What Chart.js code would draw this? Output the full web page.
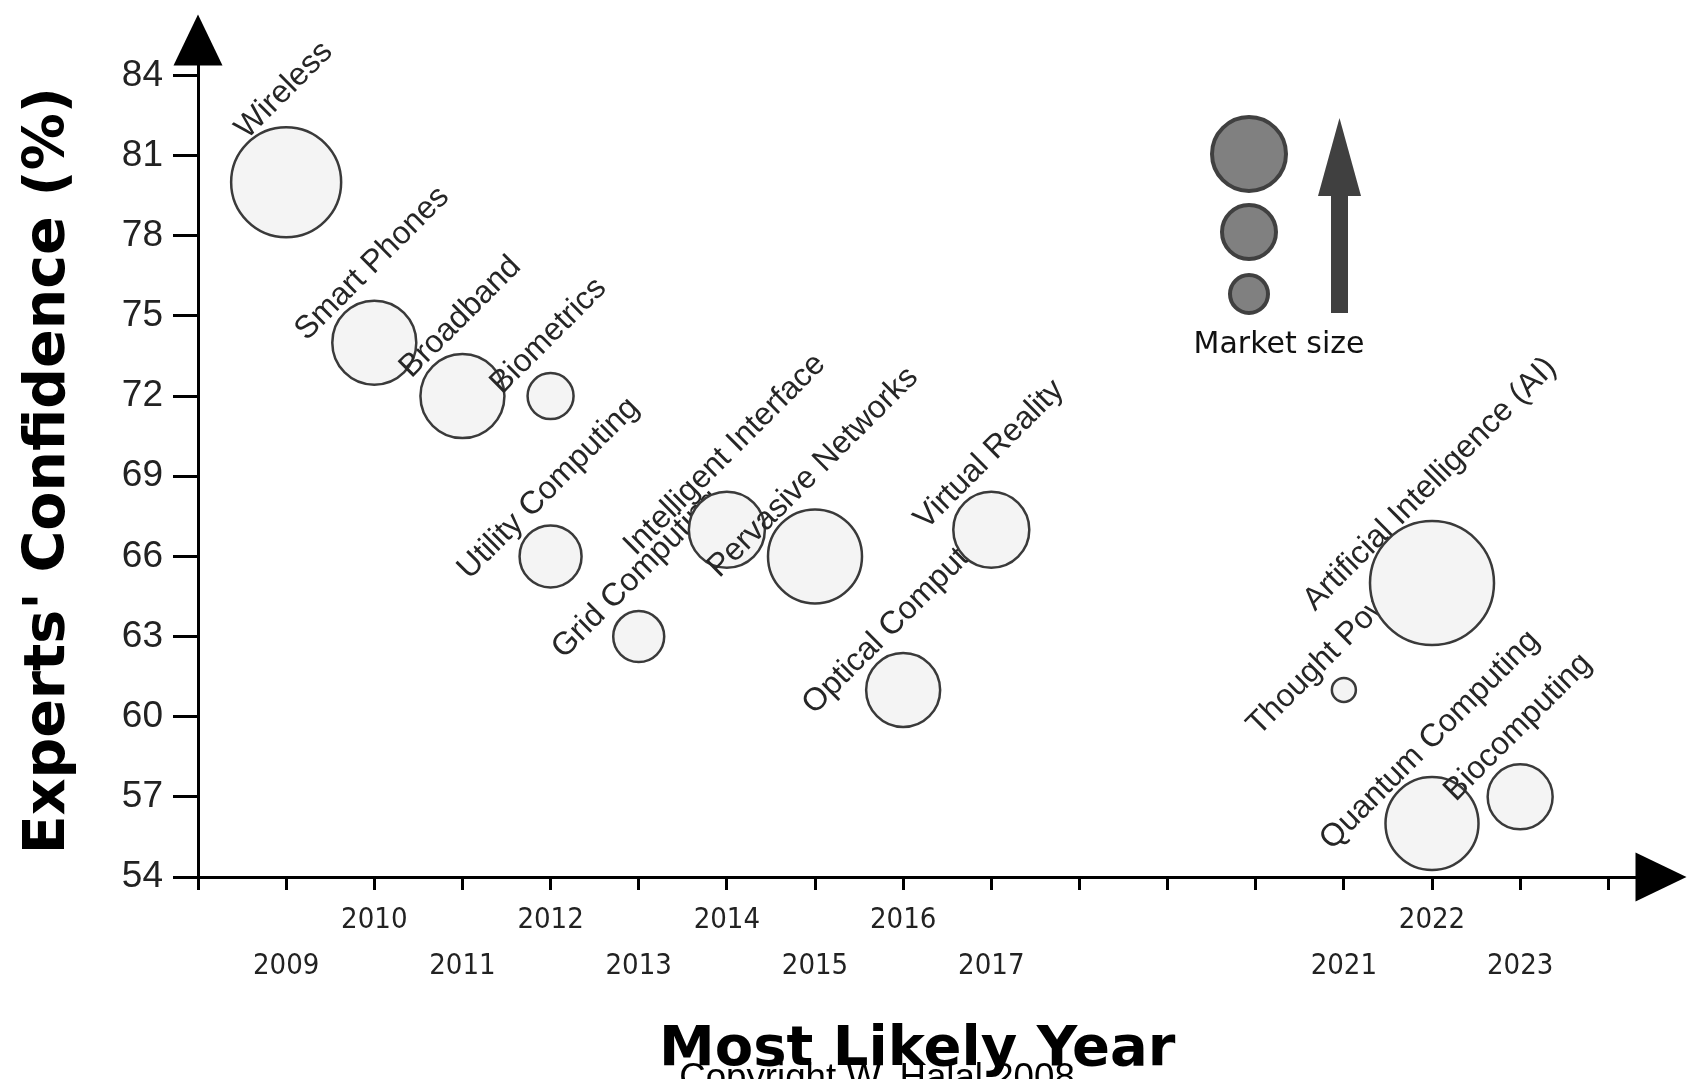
<!DOCTYPE html>
<html>
<head>
<meta charset="utf-8">
<script src="https://cdn.jsdelivr.net/npm/chart.js@4"></script>
<style>
html,body{margin:0;padding:0;background:#fff;overflow:hidden}
#wrap{width:1701px;height:1079px;position:relative}
</style>
</head>
<body>
<div id="wrap"><canvas id="c"></canvas></div>
<script>
// ---- data ----
const technologies = ["Wireless","Smart Phones","Broadband","Biometrics","Utility Computing","Grid Computing","Intelligent Interface","Pervasive Networks","Optical Computing","Virtual Reality","Thought Powered","Artificial Intelligence (AI)","Quantum Computing","Biocomputing"];
const mostLikelyYear = [2009,2010,2011,2012,2012,2013,2014,2015,2016,2017,2021,2022,2022,2023];
const expertsConfidence = [80,74,72,72,66,63,67,66,61,67,61,65,56,57];
const marketSize = [55,42,42,23,31,25.5,38,47,37,38,12,62,46.5,32.5];
const xTickYears = [2009,2010,2011,2012,2013,2014,2015,2016,2017,2021,2022,2023];
const yTickValues = [54,57,60,63,66,69,72,75,78,81,84];

const N = technologies.length;
const datasets = technologies.map((name, i) => ({
  label: name,
  data: [{x: mostLikelyYear[i], y: expertsConfidence[i], r: marketSize[i]}],
  backgroundColor: '#f4f4f4',
  borderColor: '#3a3a3a',
  borderWidth: 2.5,
  order: N - i,
  clip: false
}));

const labelPlugin = {
  id: 'bubbleLabels',
  afterDatasetDraw(chart, args) {
    const i = args.index;
    const el = args.meta.data[0];
    if (!el) return;
    const r = chart.data.datasets[i].data[0].r;
    const ctx = chart.ctx;
    ctx.save();
    ctx.translate(el.x - 2, el.y - r - 37);
    ctx.rotate(-Math.PI / 4);
    ctx.font = '32px "Liberation Sans", Arial, sans-serif';
    ctx.fillStyle = '#262626';
    ctx.textAlign = 'center';
    ctx.textBaseline = 'middle';
    ctx.fillText(technologies[i], 0, 0);
    ctx.restore();
  }
};

const decorPlugin = {
  id: 'decor',
  afterDraw(chart) {
    const {ctx, chartArea: a} = chart;
    ctx.save();
    ctx.fillStyle = '#000';
    // y axis arrow head
    ctx.beginPath();
    ctx.moveTo(a.left - 24.5, a.top + 1);
    ctx.lineTo(a.left + 24.5, a.top + 1);
    ctx.lineTo(a.left, a.top - 50);
    ctx.closePath();
    ctx.fill();
    // x axis arrow head
    ctx.beginPath();
    ctx.moveTo(a.right - 1, a.bottom - 24.5);
    ctx.lineTo(a.right - 1, a.bottom + 24.5);
    ctx.lineTo(a.right + 50, a.bottom);
    ctx.closePath();
    ctx.fill();
    // market size legend
    ctx.fillStyle = '#808080';
    ctx.strokeStyle = '#404040';
    ctx.lineWidth = 4;
    [[1249,154,37],[1249,232,27],[1249,294,19]].forEach(([cx, cy, r]) => {
      ctx.beginPath();
      ctx.arc(cx, cy, r, 0, Math.PI * 2);
      ctx.fill();
      ctx.stroke();
    });
    ctx.fillStyle = '#404040';
    ctx.fillRect(1331, 194, 17, 119);
    ctx.beginPath();
    ctx.moveTo(1318, 196);
    ctx.lineTo(1361, 196);
    ctx.lineTo(1339.5, 118);
    ctx.closePath();
    ctx.fill();
    ctx.fillStyle = '#111';
    ctx.font = '30px "DejaVu Sans", Verdana, sans-serif';
    ctx.textAlign = 'center';
    ctx.textBaseline = 'alphabetic';
    ctx.fillText('Market size', 1279, 353);
    // copyright
    ctx.fillStyle = '#000';
    ctx.font = '36.7px "Liberation Sans", Arial, sans-serif';
    ctx.fillText('Copyright W. Halal 2008', 877, 1089);
    ctx.restore();
  }
};

new Chart(document.getElementById('c'), {
  type: 'bubble',
  data: { datasets },
  plugins: [labelPlugin, decorPlugin],
  options: {
    responsive: true,
    maintainAspectRatio: false,
    animation: false,
    events: [],
    layout: { padding: { top: 58, right: 59, left: 0, bottom: 0 } },
    plugins: { legend: { display: false }, tooltip: { enabled: false } },
    scales: {
      x: {
        type: 'linear',
        min: 2008,
        max: 2024.32,
        afterFit(s) { s.height = 202; },
        ticks: {
          stepSize: 1,
          includeBounds: false,
          autoSkip: false,
          maxRotation: 0,
          minRotation: 0,
          padding: 7,
          color: '#222',
          font: { family: '"DejaVu Sans Condensed", "DejaVu Sans", sans-serif', size: 29, lineHeight: 46 / 29 },
          callback(v) {
            const y = Math.round(v);
            if (!xTickYears.includes(y)) return '';
            return y % 2 === 0 ? [String(y), ''] : ['', String(y)];
          }
        },
        grid: { drawOnChartArea: false, drawTicks: true, tickLength: 13, tickWidth: 3, tickColor: '#000' },
        border: { display: true, color: '#000', width: 3 },
        title: {
          display: true,
          text: 'Most Likely Year',
          color: '#000',
          font: { family: '"DejaVu Sans", Verdana, sans-serif', weight: 'bold', size: 56, lineHeight: 1 },
          padding: { top: 0, bottom: 0.5 }
        }
      },
      y: {
        type: 'linear',
        min: yTickValues[0],
        max: 84.41,
        afterFit(s) { s.width = 198; },
        ticks: {
          stepSize: 3,
          includeBounds: false,
          padding: 10,
          color: '#222',
          font: { family: '"Liberation Sans", Arial, sans-serif', size: 37 }
        },
        grid: { drawOnChartArea: false, drawTicks: true, tickLength: 25, tickWidth: 3, tickColor: '#000' },
        border: { display: true, color: '#000', width: 3 },
        title: {
          display: true,
          text: "Experts' Confidence (%)",
          color: '#000',
          font: { family: '"DejaVu Sans", Verdana, sans-serif', weight: 'bold', size: 57, lineHeight: 1 },
          padding: { top: 20.5, bottom: 0 }
        }
      }
    }
  }
});
</script>
</body>
</html>
